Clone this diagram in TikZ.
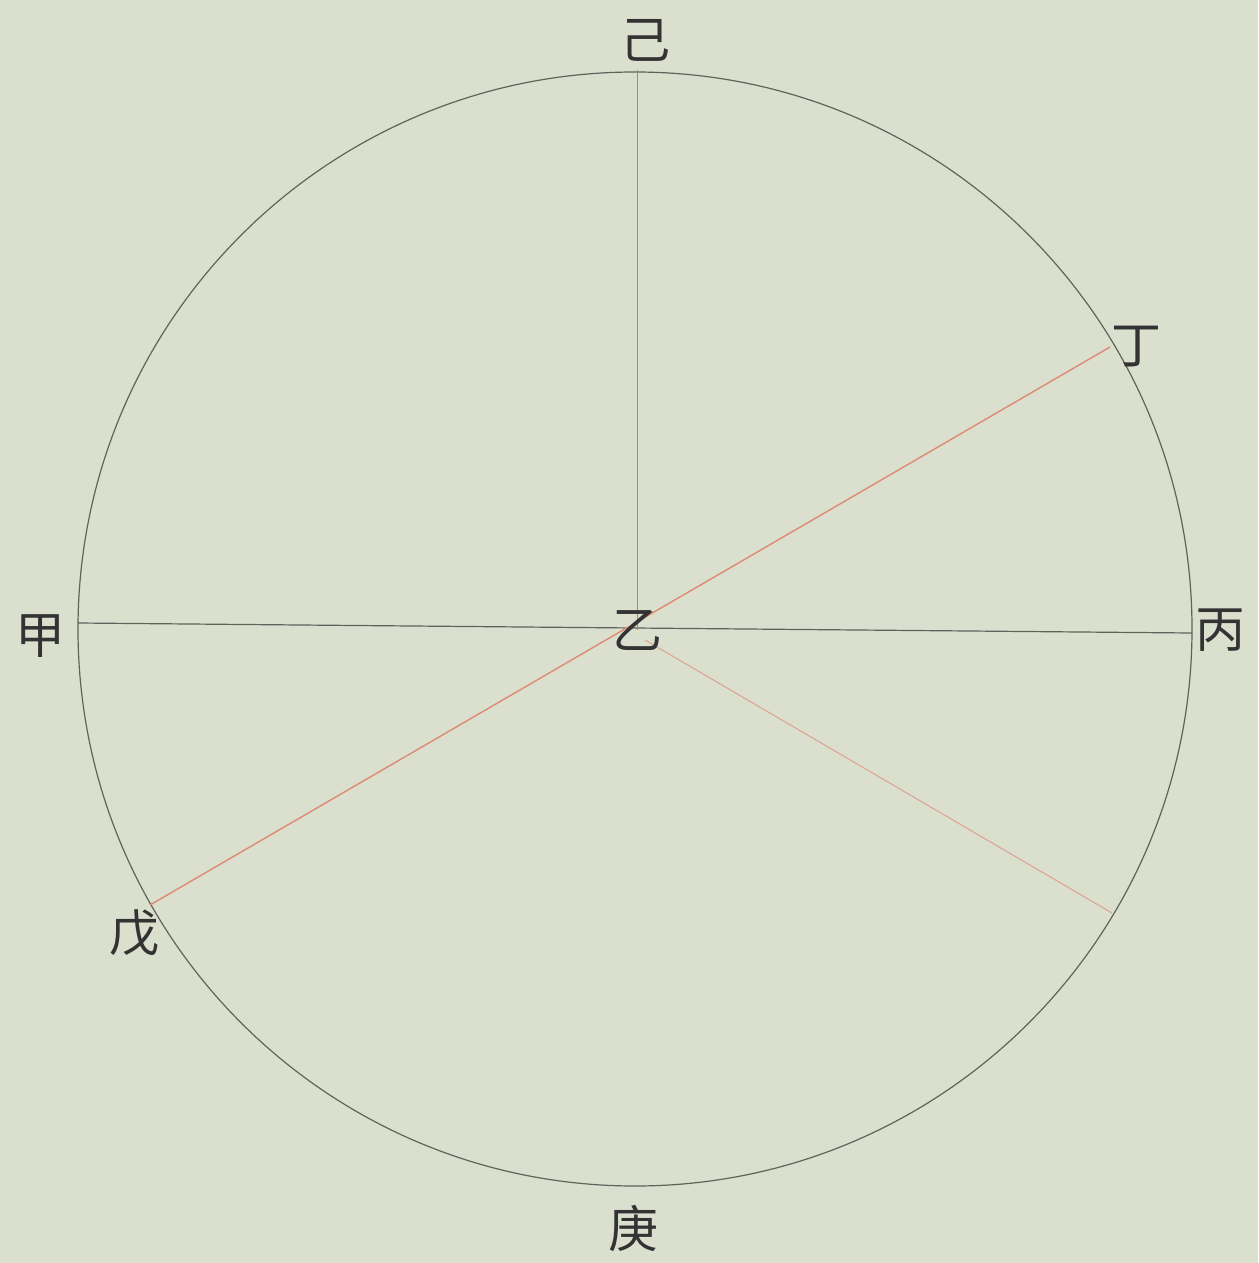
\documentclass[tikz,border=0pt]{standalone}
\usepackage{fontspec}
\newfontfamily\cjk{Noto Sans CJK SC}
\definecolor{paper}{RGB}{218,223,206}
\definecolor{ink}{RGB}{95,100,90}
\definecolor{redink}{RGB}{222,138,118}
\definecolor{redlight}{RGB}{226,160,142}
\begin{document}
\begin{tikzpicture}[x=0.5pt,y=-0.5pt,
  lbl/.style={font=\cjk\fontsize{25}{25}\selectfont, text=black!80, inner sep=0pt},
  rim/.style={draw=ink, line width=0.6pt},
  axis/.style={draw=ink, line width=0.6pt},
  faint/.style={draw=ink!70, line width=0.5pt},
  redl/.style={draw=redink, line width=0.7pt},
  redt/.style={draw=redlight, line width=0.5pt}]
\fill[paper] (0,0) rectangle (1258,1263);
\useasboundingbox (0,0) rectangle (1258,1263);
% circle
\coordinate (C) at (635,629);
\draw[rim] (C) circle[radius=278.5pt];
% points on circle
\coordinate (pJia) at (78,623);
\coordinate (pBing) at (1192,633);
\coordinate (pJi) at (637,70);
\coordinate (O) at (637,630);
\coordinate (pDing) at (1110,347);
\coordinate (pWu) at (150,905);
\coordinate (pO2) at (645,640);
\coordinate (pR) at (1112,913);
% lines
\draw[axis] (pJia) -- (pBing);
\draw[faint] (pJi) -- (O);
\draw[redl] (pWu) -- (pDing);
\draw[redt] (pO2) -- (pR);
% labels
\node[lbl] (ji) at (645,40) {己};
\node[lbl] (jia) at (41,636) {甲};
\node[lbl] (bing) at (1220,630) {丙};
\node[lbl] (ding) at (1136,347) {丁};
\node[lbl] (yi) at (637,630) {乙};
\node[lbl] (wu) at (134,933) {戊};
\node[lbl] (geng) at (633,1228) {庚};
\end{tikzpicture}
\end{document}
